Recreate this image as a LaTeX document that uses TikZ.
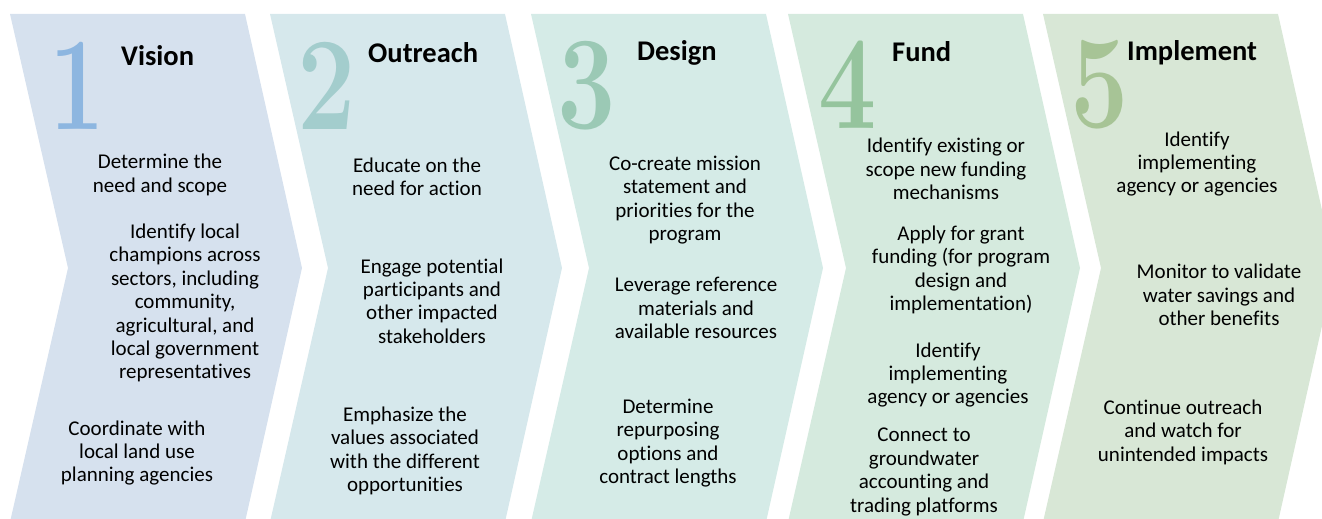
\documentclass[tikz,border=0pt]{standalone}
\usepackage{fontspec}
\usepackage{graphicx}
\setmainfont{Carlito}[Ligatures=NoCommon]
\newfontfamily\digitfont{Latin Modern Roman}
\definecolor{ch1}{HTML}{D6E1EE}
\definecolor{ch2}{HTML}{D6E8EC}
\definecolor{ch3}{HTML}{D5EBE7}
\definecolor{ch4}{HTML}{D5EADE}
\definecolor{ch5}{HTML}{D8E7D6}
\definecolor{n1}{HTML}{8DB6E0}
\definecolor{n2}{HTML}{A3CDCD}
\definecolor{n3}{HTML}{9BC9B5}
\definecolor{n4}{HTML}{95C49D}
\definecolor{n5}{HTML}{A7C496}
\begin{document}
\begin{tikzpicture}[x=1pt,y=-1pt,
  body/.style={align=center, inner sep=0pt, font=\fontsize{21}{23.4}\selectfont, text=black},
  ttl/.style={anchor=base west, inner sep=0pt, font=\fontsize{28.5}{30}\selectfont\bfseries, text=black},
  num/.style={anchor=base, inner sep=0pt, font=\digitfont\bfseries\fontsize{133}{133}\selectfont}]
\useasboundingbox (0,0) rectangle (1322,519);
\clip (0,0) rectangle (1322,519);
\foreach \L/\c in {10/ch1, 270/ch2, 531/ch3, 788/ch4, 1043/ch5}
  \fill[\c] (\L,14) -- ++(235,0) -- ++(57,254) -- ++(-57,254) -- ++(-235,0) -- ++(58,-254) -- cycle;
% numbers
\node[num, text=n1] (d1) at (77,129) {\scalebox{0.74}[1]{1}};
\node[num, text=n2] (d2) at (327,129) {\scalebox{0.78}[1]{2}};
\node[num, text=n3] (d3) at (587,128) {\scalebox{0.78}[1]{3}};
\node[num, text=n4] (d4) at (848,128) {\scalebox{0.78}[1]{4}};
\node[num, text=n5] (d5) at (1100,127) {\scalebox{0.78}[1]{5}};
% titles
\node[ttl] (t1) at (121,66) {Vision};
\node[ttl] (t2) at (368,63) {Outreach};
\node[ttl] (t3) at (637,60) {Design};
\node[ttl] (t4) at (892,62) {Fund};
\node[ttl] (t5) at (1127,60) {Implement};
% column 1
\node[body] (a1) at (160,175) {Determine the\\need and scope};
\node[body] (a2) at (185,303) {Identify local\\champions across\\sectors, including\\community,\\agricultural, and\\local government\\representatives};
\node[body] (a3) at (137,453) {Coordinate with\\local land use\\planning agencies};
% column 2
\node[body] (b1) at (417,177) {Educate on the\\need for action};
\node[body] (b2) at (432,301) {Engage potential\\participants and\\other impacted\\stakeholders};
\node[body] (b3) at (405,451) {Emphasize the\\values associated\\with the different\\opportunities};
% column 3
\node[body] (c1) at (685,200) {Co-create mission\\statement and\\priorities for the\\program};
\node[body] (c2) at (696,308) {Leverage reference\\materials and\\available resources};
\node[body] (c3) at (668,443) {Determine\\repurposing\\options and\\contract lengths};
% column 4
\node[body] (e1) at (946,169) {Identify existing or\\scope new funding\\mechanisms};
\node[body] (e2) at (961,270) {Apply for grant\\funding (for program\\design and\\implementation)};
\node[body] (e3) at (948,375) {Identify\\implementing\\agency or agencies};
\node[body] (e4) at (924,472) {Connect to\\groundwater\\accounting and\\trading platforms};
% column 5
\node[body] (f1) at (1197,164) {Identify\\implementing\\agency or agencies};
\node[body] (f2) at (1219,295) {Monitor to validate\\water savings and\\other benefits};
\node[body] (f3) at (1183,432) {Continue outreach\\and watch for\\unintended impacts};
\end{tikzpicture}
\end{document}
